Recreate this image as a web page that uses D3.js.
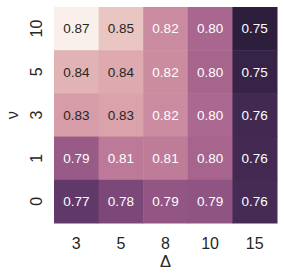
<!DOCTYPE html>
<html>
<head>
<meta charset="utf-8">
<script src="https://cdn.jsdelivr.net/npm/d3@7"></script>
<style>
  html, body { margin: 0; padding: 0; background: #fff; }
  svg { display: block; }
  svg text { font-family: 'Liberation Sans', Arial, sans-serif; }
</style>
</head>
<body>
<main></main>
<script>
const deltas = ['3', '5', '8', '10', '15'];
const nus = ['10', '5', '3', '1', '0'];

// one array per nu row, values per delta column
const nu10 = [0.872, 0.851, 0.822, 0.802, 0.748];
const nu5 = [0.842, 0.838, 0.823, 0.801, 0.752];
const nu3 = [0.831, 0.834, 0.822, 0.803, 0.757];
const nu1 = [0.794, 0.813, 0.814, 0.801, 0.758];
const nu0 = [0.770, 0.781, 0.791, 0.790, 0.759];

const rows = [nu10, nu5, nu3, nu1, nu0];

const cells = [];
rows.forEach((vals, i) => {
  vals.forEach((value, j) => {
    cells.push({ nu: nus[i], delta: deltas[j], value });
  });
});

const dimensions = {
  width: 284,
  height: 278,
  margin: { top: 7, right: 7, bottom: 55, left: 54 },
};
dimensions.boundedWidth =
  dimensions.width - (dimensions.margin.left + dimensions.margin.right);
dimensions.boundedHeight =
  dimensions.height - (dimensions.margin.top + dimensions.margin.bottom);

// matplotlib cubehelix (start 0, rot .4, hue .8, gamma 1), light .95 -> dark .15
function cubehelix(x) {
  const a = 0.8 * x * (1 - x) / 2;
  const phi = 2 * Math.PI * (0.4 * x);
  const c = Math.cos(phi);
  const s = Math.sin(phi);
  const ch = (p0, p1) => Math.max(0, Math.min(1, x + a * (p0 * c + p1 * s)));
  return [ch(-0.14861, 1.78277), ch(-0.29227, -0.90649), ch(1.97294, 0)];
}

const [vmin, vmax] = d3.extent(cells, d => d.value);
const colorFor = v => {
  const t = Math.max(0, Math.min(1, (v - vmin) / (vmax - vmin)));
  const k = Math.min(255, Math.floor(t * 256));
  const x = 0.15 + (0.95 - 0.15) * (k / 255);
  return cubehelix(x);
};
const toCss = rgb => d3.rgb(rgb[0] * 255, rgb[1] * 255, rgb[2] * 255).formatHex();
const luminance = rgb => {
  const lin = rgb.map(c => (c <= 0.03928 ? c / 12.92 : ((c + 0.055) / 1.055) ** 2.4));
  return lin[0] * 0.2126 + lin[1] * 0.7152 + lin[2] * 0.0722;
};

const svg = d3
  .select('main')
  .append('svg')
  .attr('width', dimensions.width)
  .attr('height', dimensions.height);

const bounds = svg
  .append('g')
  .attr('transform', `translate(${dimensions.margin.left} ${dimensions.margin.top})`);

const xScale = d3
  .scaleBand()
  .domain(deltas)
  .range([0, dimensions.boundedWidth]);

const yScale = d3
  .scaleBand()
  .domain(nus)
  .range([0, dimensions.boundedHeight]);

const cellGroup = bounds
  .selectAll('g.cell')
  .data(cells)
  .join('g')
  .attr('class', 'cell');

cellGroup
  .append('rect')
  .attr('x', d => xScale(d.delta))
  .attr('y', d => yScale(d.nu))
  .attr('width', xScale.bandwidth() + 0.5)
  .attr('height', yScale.bandwidth() + 0.5)
  .attr('fill', d => toCss(colorFor(d.value)));

cellGroup
  .append('text')
  .attr('x', d => xScale(d.delta) + xScale.bandwidth() / 2)
  .attr('y', d => yScale(d.nu) + yScale.bandwidth() / 2)
  .attr('dy', '0.36em')
  .attr('text-anchor', 'middle')
  .attr('font-size', 13.5)
  .attr('fill', d => (luminance(colorFor(d.value)) > 0.408 ? '#262626' : '#ffffff'))
  .text(d => d.value.toFixed(2));

const xAxis = d3.axisBottom(xScale).tickSize(0).tickPadding(15);
const yAxis = d3.axisLeft(yScale).tickSize(0);

const xAxisGroup = bounds
  .append('g')
  .attr('transform', `translate(0 ${dimensions.boundedHeight})`)
  .call(xAxis);

const yAxisGroup = bounds.append('g').call(yAxis);

bounds.selectAll('.domain').remove();

xAxisGroup
  .selectAll('text')
  .attr('fill', '#262626')
  .attr('font-size', 16)
  .style('font-family', null);

yAxisGroup
  .selectAll('text')
  .attr('fill', '#262626')
  .attr('font-size', 16)
  .attr('x', null)
  .attr('dy', null)
  .attr('text-anchor', 'middle')
  .attr('transform', 'translate(-12 0) rotate(-90)');

svg.selectAll('g.tick text').attr('font-family', null);
bounds.selectAll('g[font-family]').attr('font-family', null).attr('font-size', null);

bounds
  .append('text')
  .attr('x', dimensions.boundedWidth / 2)
  .attr('y', dimensions.boundedHeight + 44)
  .attr('text-anchor', 'middle')
  .attr('font-size', 16.5)
  .attr('fill', '#262626')
  .text('Δ');

bounds
  .append('text')
  .attr('transform', `translate(-36 ${dimensions.boundedHeight / 2}) rotate(-90)`)
  .attr('text-anchor', 'middle')
  .attr('font-size', 16.5)
  .attr('fill', '#262626')
  .text('ν');
</script>
</body>
</html>
